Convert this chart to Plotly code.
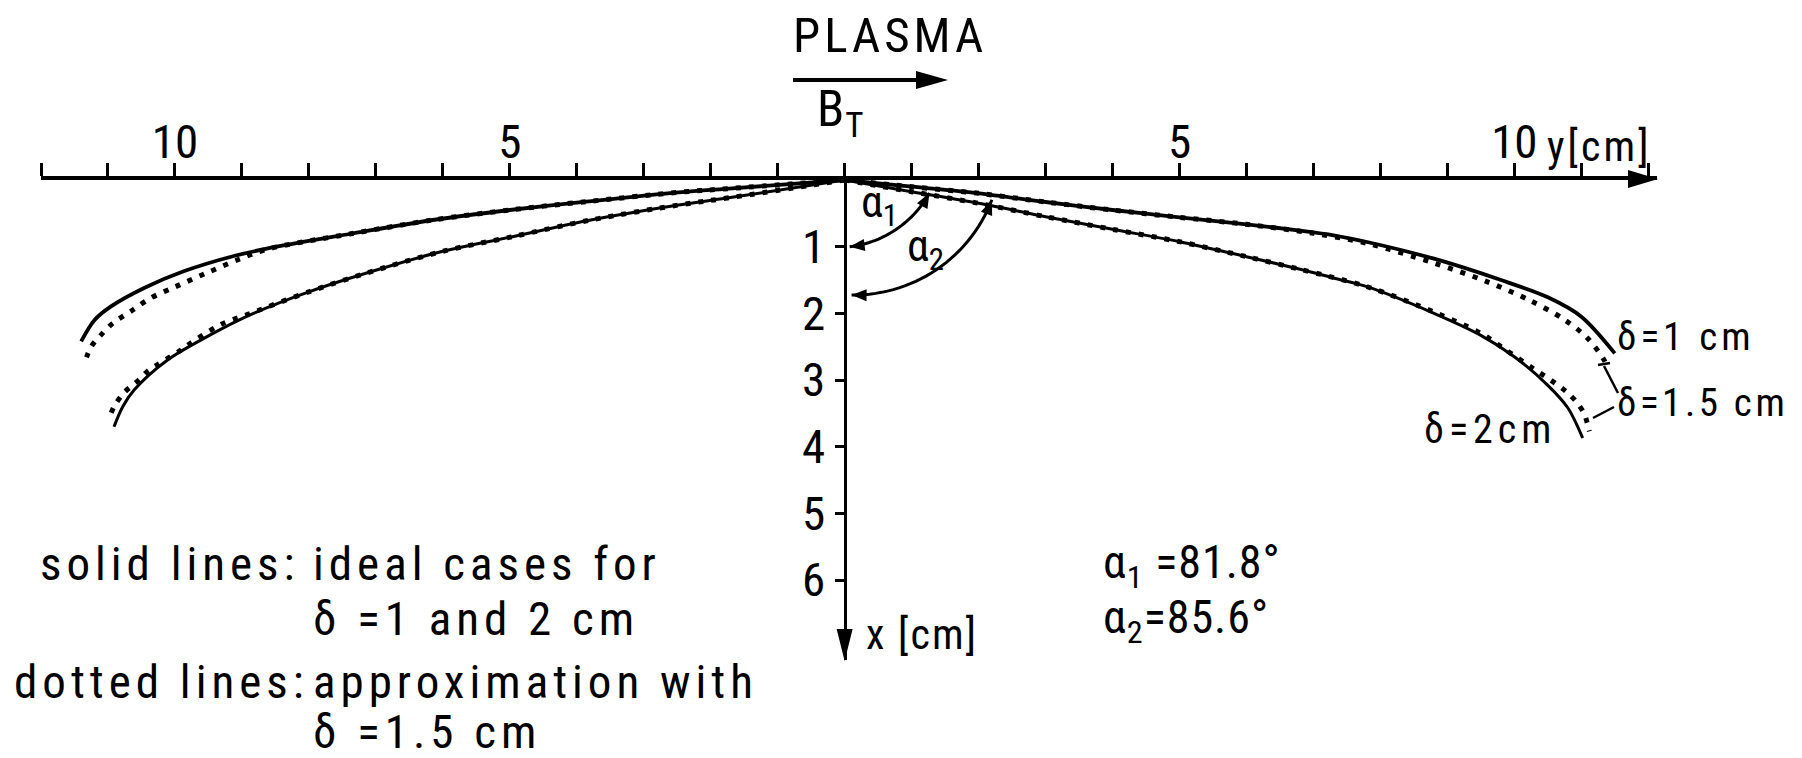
import math
import plotly.graph_objects as go

FONT = "Roboto Condensed, Roboto, sans-serif"

# ---------------- data (horizontal axis = y [cm], vertical axis = x [cm]) ----------------
y_tickvals = list(range(-12, 13))
y_ticktext = ["10" if abs(v) == 10 else ("5" if abs(v) == 5 else "") for v in y_tickvals]
x_tickvals = [1, 2, 3, 4, 5, 6]
x_ticktext = ["1", "2", "3", "4", "5", "6"]

# right branch, ideal delta = 1 cm (solid)
r1_solid_y = [0, 1, 2, 3, 4, 5, 6, 6.8, 7.3, 7.8, 8.8, 9.8, 10.5, 11.0, 11.5]
r1_solid_x = [0, 0.1, 0.2, 0.33, 0.45, 0.56, 0.665, 0.76, 0.83, 0.93, 1.18, 1.5, 1.76, 2.05, 2.6]
# right branch, approximation delta = 1.5 cm (dotted, upper)
r1_dot_y = [0, 1, 2, 3, 4, 5, 6, 7.0, 7.8, 8.78, 9.58, 10.22, 10.74, 11.09, 11.34, 11.39]
r1_dot_x = [0, 0.1, 0.2, 0.33, 0.45, 0.56, 0.665, 0.8, 0.95, 1.24, 1.52, 1.8, 2.09, 2.37, 2.7, 2.82]
# right branch, ideal delta = 2 cm (solid)
r2_solid_y = [0, 1, 2, 3, 4, 5, 6, 6.8, 7.3, 7.8, 8.8, 9.5, 10.0, 10.5, 10.8, 11.02]
r2_solid_x = [0, 0.175, 0.35, 0.55, 0.74, 0.925, 1.15, 1.34, 1.47, 1.6, 2.0, 2.33, 2.65, 3.08, 3.42, 3.87]
# right branch, approximation delta = 1.5 cm (dotted, lower)
r2_dot_y = [0, 1, 2, 3, 4, 5, 6, 6.8, 7.8, 8.8, 9.5, 9.83, 10.27, 10.57, 10.77, 10.92, 11.04, 11.09, 11.12]
r2_dot_x = [0, 0.175, 0.35, 0.55, 0.74, 0.925, 1.15, 1.34, 1.6, 1.98, 2.3, 2.52, 2.82, 3.02, 3.17, 3.32, 3.5, 3.65, 3.77]

# left branch, delta = 1 cm (solid) and its approximation (dotted)
l1_solid_y = [0, -1.68, -2.48, -3.86, -5.0, -6.15, -7.39, -8.63, -9.12, -9.87, -10.46, -10.96, -11.2, -11.4]
l1_solid_x = [0, 0.125, 0.185, 0.325, 0.45, 0.6, 0.81, 1.03, 1.14, 1.37, 1.62, 1.9, 2.1, 2.42]
l1_dot_y = [0, -1.68, -2.48, -3.86, -5.0, -6.15, -7.39, -8.63, -9.07, -9.54, -9.99, -10.36, -10.63, -10.93, -11.1, -11.25, -11.35]
l1_dot_x = [0, 0.125, 0.185, 0.325, 0.45, 0.6, 0.81, 1.04, 1.2, 1.4, 1.6, 1.77, 1.95, 2.15, 2.32, 2.5, 2.74]
# left branch, delta = 2 cm (solid) and its approximation (dotted)
l2_solid_y = [0, -1.68, -2.48, -3.79, -4.96, -6.0, -6.89, -7.98, -8.87, -9.52, -10.11, -10.61, -10.78, -10.91]
l2_solid_x = [0, 0.26, 0.375, 0.6, 0.85, 1.07, 1.32, 1.67, 2.02, 2.35, 2.7, 3.15, 3.4, 3.7]
l2_dot_y = [0, -1.68, -2.48, -3.79, -4.96, -6.0, -6.89, -7.98, -8.87, -9.32, -9.77, -9.94, -10.26, -10.41, -10.54, -10.76, -10.91, -10.99]
l2_dot_x = [0, 0.26, 0.375, 0.6, 0.85, 1.07, 1.32, 1.67, 2.0, 2.17, 2.45, 2.57, 2.77, 2.87, 3.0, 3.19, 3.4, 3.59]

alpha_text = ["α<sub>1</sub> =81.8°", "α<sub>2</sub>=85.6°"]

# ---------------- layout geometry (reference page pixels) ----------------
BODY = 8                    # default page margin of the html body
W, H = 1802 - 2 * BODY, 758 - 2 * BODY
L, T, PW, PH = 41, 180, 1616, 480   # plot area in page pixels
HR = [-12, 12.13]          # horizontal range (y [cm])
VR = [7.2, 0]              # vertical range (x [cm]), downward
sx = PW / (HR[1] - HR[0])
OX = L + (0 - HR[0]) * sx  # origin in page pixels
OY = T


def paper(px, py):
    return (px - L) / PW, 1 - (py - T) / PH


def poly_path(pts, close=False):
    s = ""
    for i, (px, py) in enumerate(pts):
        a, b = paper(px, py)
        s += ("M" if i == 0 else "L") + f"{a:.5f},{b:.5f} "
    return s + ("Z" if close else "")


def head(tip, d, length, half):
    tx, ty = tip
    dx, dy = d
    n = math.hypot(dx, dy)
    dx, dy = dx / n, dy / n
    bx, by = tx - length * dx, ty - length * dy
    return [(tx, ty), (bx - half * dy, by + half * dx), (bx + half * dy, by - half * dx)]


fig = go.Figure()

solid_w = {"r1": 3.8, "r2": 3.0, "l1": 3.8, "l2": 3.0}
for name, yy, xx in [("r1", r1_solid_y, r1_solid_x), ("r2", r2_solid_y, r2_solid_x),
                     ("l1", l1_solid_y, l1_solid_x), ("l2", l2_solid_y, l2_solid_x)]:
    fig.add_trace(go.Scatter(x=yy, y=xx, mode="lines",
                             line=dict(color="black", width=solid_w[name], shape="spline", smoothing=0.9),
                             hoverinfo="skip", showlegend=False))
for yy, xx in [(r1_dot_y, r1_dot_x), (r2_dot_y, r2_dot_x), (l1_dot_y, l1_dot_x), (l2_dot_y, l2_dot_x)]:
    fig.add_trace(go.Scatter(x=yy, y=xx, mode="lines",
                             line=dict(color="black", width=5, dash="5px,8px", shape="spline", smoothing=0.9),
                             hoverinfo="skip", showlegend=False))

shapes = []
noline = dict(color="black", width=0)
# axis arrowheads
shapes.append(dict(type="path", xref="paper", yref="paper", path=poly_path(head((L + PW + 1, OY - 1), (1, 0), 30, 9), True),
                   fillcolor="black", line=noline))
shapes.append(dict(type="path", xref="paper", yref="paper", path=poly_path(head((OX, T + PH + 1), (0, 1), 32, 8), True),
                   fillcolor="black", line=noline))
# B_T arrow
shapes.append(dict(type="line", xref="paper", yref="paper", x0=paper(793, 80)[0], y0=paper(793, 80)[1],
                   x1=paper(925, 80)[0], y1=paper(925, 80)[1], line=dict(color="black", width=4)))
shapes.append(dict(type="path", xref="paper", yref="paper", path=poly_path(head((948, 80), (1, 0), 32, 9), True),
                   fillcolor="black", line=noline))

# angle arcs (circle centre relative to origin in px, radius, start/end angle in deg)
for (cx, cy, r, a0, a1) in [(-7.9, -38.4, 106, 83, 29), (9, -33, 148, 90.8, 20.9)]:
    pts = []
    n = 30
    for i in range(n + 1):
        a = math.radians(a0 + (a1 - a0) * i / n)
        pts.append((OX + cx + r * math.cos(a), OY + cy + r * math.sin(a)))
    shapes.append(dict(type="path", xref="paper", yref="paper", path=poly_path(pts), line=dict(color="black", width=3)))
    ra0, ra1 = math.radians(a0), math.radians(a1)
    shapes.append(dict(type="path", xref="paper", yref="paper",
                       path=poly_path(head(pts[0], (-math.sin(ra0), math.cos(ra0)), 15, 6), True), fillcolor="black", line=noline))
    shapes.append(dict(type="path", xref="paper", yref="paper",
                       path=poly_path(head(pts[-1], (math.sin(ra1), -math.cos(ra1)), 15, 6), True), fillcolor="black", line=noline))

# leader lines for delta = 1.5 cm
for (p0, p1) in [((1604, 366), (1618, 393)), ((1593, 418), (1614, 407)), ((1598, 365), (1610, 363))]:
    a, b = paper(*p0)
    c, d = paper(*p1)
    shapes.append(dict(type="line", xref="paper", yref="paper", x0=a, y0=b, x1=c, y1=d, line=dict(color="black", width=2.5)))

annotations = []


def txt(text, px, py, size, ls=0, xanchor="left", yanchor="middle"):
    a, b = paper(px, py)
    t = f'<span style="letter-spacing:{ls}px">{text}</span>' if ls else text
    annotations.append(dict(text=t, x=a, y=b, xref="paper", yref="paper", showarrow=False,
                            xanchor=xanchor, yanchor=yanchor, font=dict(family=FONT, size=size, color="black")))


txt("PLASMA", 791, 36, 49, 4)
txt("B<sub>T</sub>", 815, 113, 50, 1)
txt("y[cm]", 1545, 146, 42, 3)
txt("x [cm]", 864, 634, 42, 2)
txt("α<sub>1</sub>", 859, 205, 44, 0)
txt("α<sub>2</sub>", 905, 249, 44, 0)
txt("δ=1 cm", 1615, 337, 39, 4)
txt("δ=1.5 cm", 1615, 403, 39, 3.5)
txt("δ=2cm", 1422, 429, 40, 5)
txt(alpha_text[0], 1101, 565, 46, 1)
txt(alpha_text[1], 1101, 620, 46, 1)
txt("solid lines:", 38, 563, 47, 5)
txt("ideal cases for", 311, 563, 47, 5)
txt("δ =1 and 2 cm", 311, 618, 47, 5)
txt("dotted lines:", 12, 681, 47, 5)
txt("approximation with", 311, 681, 47, 5)
txt("δ =1.5 cm", 311, 731, 47, 5)

fig.update_layout(
    width=W, height=H,
    margin=dict(l=L - BODY, r=W - (L - BODY) - PW, t=T - BODY, b=H - (T - BODY) - PH),
    paper_bgcolor="white", plot_bgcolor="white",
    showlegend=False,
    xaxis=dict(range=HR, side="top", showline=True, linecolor="black", linewidth=3.5,
               ticks="outside", ticklen=13, tickwidth=3, tickcolor="black", ticklabelstandoff=-14,
               tickvals=y_tickvals, ticktext=y_ticktext, showgrid=False, zeroline=False,
               tickfont=dict(family=FONT, size=47, color="black"), fixedrange=True, automargin=False),
    yaxis=dict(range=VR, anchor="free", position=(0 - HR[0]) / (HR[1] - HR[0]), side="left",
               showline=True, linecolor="black", linewidth=3, ticks="outside", ticklen=9, tickwidth=3,
               tickcolor="black", tickvals=x_tickvals, ticktext=x_ticktext, showgrid=False, zeroline=False,
               tickfont=dict(family=FONT, size=47, color="black"), fixedrange=True, automargin=False),
    shapes=shapes,
    annotations=annotations,
)

fig.write_html("out.html")
